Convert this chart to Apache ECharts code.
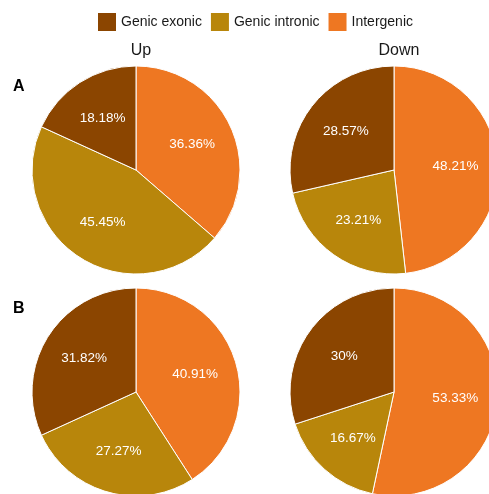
<!DOCTYPE html>
<html>
<head>
<meta charset="utf-8">
<script src="https://cdn.jsdelivr.net/npm/echarts@6/dist/echarts.min.js"></script>
<style>
  html, body { margin: 0; padding: 0; background: #fff; }
  #chart { width: 489px; height: 494px; }
</style>
</head>
<body>
<div id="chart"></div>
<script>
// Genomic location of up/down regulated features, two comparisons (A, B)
const categories = ['Intergenic', 'Genic intronic', 'Genic exonic'];
const legendOrder = ['Genic exonic', 'Genic intronic', 'Intergenic'];
const colors = {
  'Genic exonic': '#8B4500',
  'Genic intronic': '#B8860B',
  'Intergenic': '#EE7722'
};

// Percentages per panel, in the order of `categories`
const upA   = [36.36, 45.45, 18.18];
const downA = [48.21, 23.21, 28.57];
const upB   = [40.91, 27.27, 31.82];
const downB = [53.33, 16.67, 30];

const columnTitles = ['Up', 'Down'];
const rowTitles = ['A', 'B'];

// Layout of the 2x2 grid of pies
const colX = [136, 394];
const rowY = [170, 392];
const R = 104;
const labelPush = 0.12; // move labels a bit outward from the half-radius spot

const panels = [
  { values: upA,   col: 0, row: 0 },
  { values: downA, col: 1, row: 0 },
  { values: upB,   col: 0, row: 1 },
  { values: downB, col: 1, row: 1 }
];

const series = panels.map(function (p) {
  const cx = colX[p.col], cy = rowY[p.row];
  return {
    type: 'pie',
    center: [cx, cy],
    radius: [0, R],
    startAngle: 90,
    clockwise: true,
    avoidLabelOverlap: false,
    silent: true,
    itemStyle: { borderColor: '#ffffff', borderWidth: 1 },
    label: {
      show: true,
      position: 'inside',
      formatter: '{c}%',
      color: '#ffffff',
      fontFamily: 'Liberation Sans, Arial, sans-serif',
      fontSize: 13.5
    },
    labelLine: { show: false },
    labelLayout: function (params) {
      const r = params.labelRect;
      const lx = r.x + r.width / 2, ly = r.y + r.height / 2;
      return { dx: (lx - cx) * labelPush, dy: (ly - cy) * labelPush };
    },
    data: categories.map(function (name, i) {
      return { name: name, value: p.values[i], itemStyle: { color: colors[name] } };
    })
  };
});

const titles = [];
columnTitles.forEach(function (t, i) {
  titles.push({
    text: t,
    left: colX[i],
    top: 38,
    textAlign: 'center',
    textStyle: { fontFamily: 'Liberation Sans, Arial, sans-serif', fontSize: 16, fontWeight: 'normal', color: '#1a1a1a' }
  });
});
rowTitles.forEach(function (t, i) {
  titles.push({
    text: t,
    left: 8,
    top: rowY[i] - 96,
    textStyle: { fontFamily: 'Liberation Sans, Arial, sans-serif', fontSize: 16, fontWeight: 'bold', color: '#000000' }
  });
});

const chart = echarts.init(document.getElementById('chart'), null, { renderer: 'canvas' });
chart.setOption({
  animation: false,
  backgroundColor: '#ffffff',
  title: titles,
  legend: {
    data: legendOrder,
    top: 6,
    left: 91,
    itemWidth: 20,
    itemHeight: 20,
    itemGap: 7,
    icon: 'rect',
    selectedMode: false,
    textStyle: { fontFamily: 'Liberation Sans, Arial, sans-serif', fontSize: 14, color: '#1a1a1a', padding: [0, 0, 0, -1] }
  },
  series: series
});
</script>
</body>
</html>
